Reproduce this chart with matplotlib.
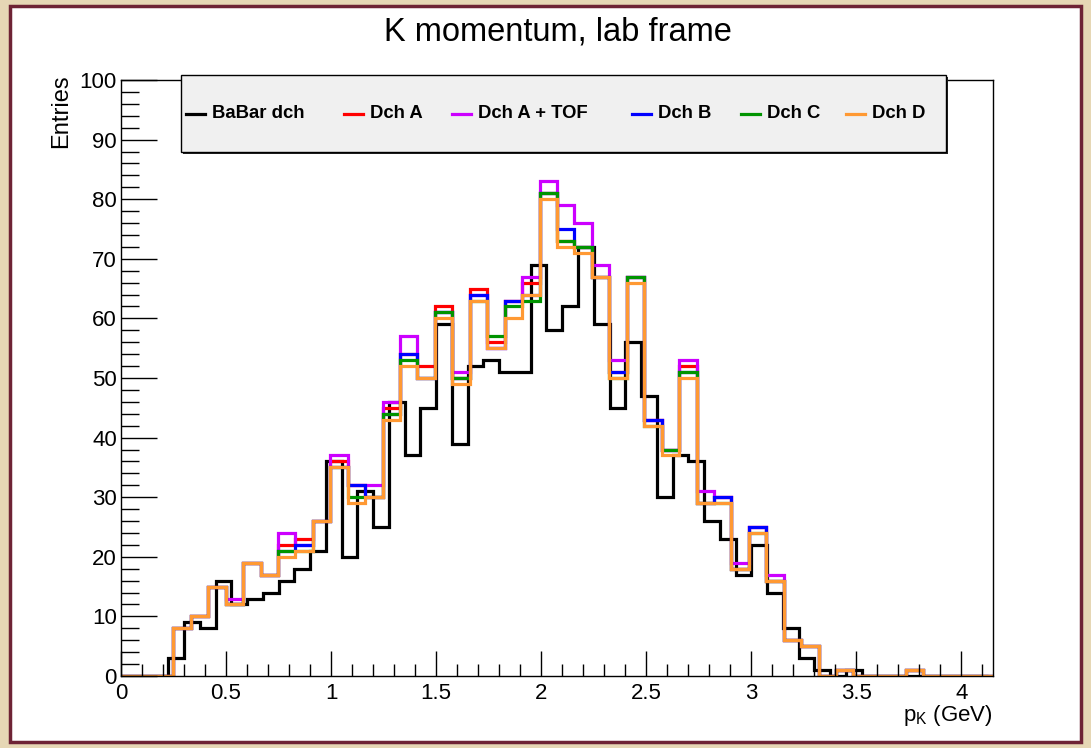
import matplotlib
matplotlib.use('Agg')
import matplotlib.pyplot as plt
from matplotlib.patches import Rectangle
from matplotlib.ticker import MultipleLocator
from matplotlib.lines import Line2D
import numpy as np

plt.rcParams['font.family'] = ['Liberation Sans', 'DejaVu Sans']

# binning: 50 bins for the new chambers, 55 for the BaBar reference
edges_dch = np.linspace(0.0, 4.15, 51)
edges_babar = np.linspace(0.0, 4.125, 56)

babar_dch = [0, 0, 0, 3, 9, 8, 16, 12, 13, 14, 16, 18, 21, 36, 20, 31, 25, 46, 37, 45,
             59, 39, 52, 53, 51, 51, 69, 58, 62, 72, 59, 45, 56, 47, 30, 37, 36, 26, 23, 17,
             22, 14, 8, 3, 1, 0, 1, 0, 0, 0, 0, 0, 0, 0, 0]

dch_a = [0, 0, 0, 8, 10, 15, 12, 19, 17, 22, 23, 26, 36, 32, 30, 45, 54, 52, 62, 50,
         65, 56, 63, 66, 81, 73, 72, 67, 51, 67, 43, 38, 52, 29, 30, 18, 25, 16, 6, 5,
         0, 1, 0, 0, 0, 1, 0, 0, 0, 0]

dch_a_tof = [0, 0, 0, 8, 10, 15, 13, 19, 17, 24, 22, 26, 37, 32, 32, 46, 57, 50, 61, 51,
             64, 55, 63, 67, 83, 79, 76, 69, 53, 67, 43, 38, 53, 31, 30, 19, 25, 17, 6, 5,
             0, 1, 0, 0, 0, 1, 0, 0, 0, 0]

dch_b = [0, 0, 0, 8, 10, 15, 12, 19, 17, 21, 22, 26, 35, 32, 30, 44, 54, 50, 61, 50,
         64, 55, 63, 64, 81, 75, 72, 67, 51, 67, 43, 38, 51, 29, 30, 18, 25, 16, 6, 5,
         0, 1, 0, 0, 0, 1, 0, 0, 0, 0]

dch_c = [0, 0, 0, 8, 10, 15, 12, 19, 17, 21, 21, 26, 35, 30, 30, 44, 53, 50, 61, 50,
         63, 57, 62, 63, 81, 73, 72, 67, 50, 67, 42, 38, 51, 29, 29, 18, 24, 16, 6, 5,
         0, 1, 0, 0, 0, 1, 0, 0, 0, 0]

dch_d = [0, 0, 0, 8, 10, 15, 12, 19, 17, 20, 21, 26, 35, 29, 30, 43, 52, 50, 60, 49,
         63, 55, 60, 64, 80, 72, 71, 67, 50, 66, 42, 37, 50, 29, 29, 18, 24, 16, 6, 5,
         0, 1, 0, 0, 0, 1, 0, 0, 0, 0]

labels = ['BaBar dch', 'Dch A', 'Dch A + TOF', 'Dch B', 'Dch C', 'Dch D']
colors = ['#000000', '#ff0000', '#cc00ff', '#0000ff', '#009400', '#ff9933']

fig = plt.figure(figsize=(10.91, 7.48), dpi=100)
fig.patch.set_facecolor('#e6d7b5')
# canvas
fig.patches.append(Rectangle((0.009, 0.008), 0.982, 0.984, transform=fig.transFigure,
                             facecolor='white', edgecolor='#6e2335', linewidth=2.5, zorder=-5))

ax = fig.add_axes([121/1091, 1 - 676/748, (993 - 121)/1091, (676 - 80)/748])
ax.set_zorder(1)
ax.patch.set_alpha(0)

series = [(babar_dch, edges_babar), (dch_a, edges_dch), (dch_a_tof, edges_dch),
          (dch_b, edges_dch), (dch_c, edges_dch), (dch_d, edges_dch)]
for (vals, ed), col, lab in zip(series, colors, labels):
    ax.stairs(vals, ed, color=col, linewidth=2.3, baseline=None, label=lab)

ax.set_xlim(0, 4.15)
ax.set_ylim(0, 100)
for s in ax.spines.values():
    s.set_linewidth(1.0)

ax.xaxis.set_major_locator(MultipleLocator(0.5))
ax.xaxis.set_minor_locator(MultipleLocator(0.1))
ax.yaxis.set_major_locator(MultipleLocator(10))
ax.yaxis.set_minor_locator(MultipleLocator(2))
ax.xaxis.set_major_formatter(plt.FuncFormatter(lambda v, p: '%g' % v))
ax.tick_params(axis='x', which='major', direction='in', length=18, width=1, labelsize=16, pad=5)
ax.tick_params(axis='x', which='minor', direction='in', length=9, width=1)
ax.tick_params(axis='y', which='major', direction='in', length=26, width=1, labelsize=16, pad=3)
ax.tick_params(axis='y', which='minor', direction='in', length=13, width=1)

fig.text(558/1091, 1 - 32/748, 'K momentum, lab frame', ha='center', va='center', fontsize=23.5)
fig.text(61/1091, 1 - 74/748, 'Entries', rotation=90, ha='center', va='top', fontsize=17)
fig.text(993/1091, 1 - 716/748, r'p$_{\mathregular{K}}$ (GeV)', ha='right', va='center', fontsize=16)

# legend box with shadow, single row
shadow = Rectangle((183/1091, 1 - 154/748), (946 - 181)/1091, (152 - 75)/748,
                   transform=fig.transFigure, facecolor='#222222', edgecolor='none', zorder=5)
box = Rectangle((181/1091, 1 - 152/748), (946 - 181)/1091, (152 - 75)/748,
                transform=fig.transFigure, facecolor='#f0f0f0', edgecolor='black',
                linewidth=1, zorder=6)
fig.patches.extend([shadow, box])

line_x = [186, 344, 452, 632, 741, 846]
for lx, col, lab in zip(line_x, colors, labels):
    fig.lines.append(Line2D([lx/1091, (lx + 19)/1091], [1 - 114/748, 1 - 114/748],
                            transform=fig.transFigure, color=col, linewidth=2.3, zorder=7))
    fig.text((lx + 26)/1091, 1 - 114/748, lab, ha='left', va='center', fontsize=13.3,
             fontweight='bold', zorder=8)

fig.savefig('out.png', dpi=100, facecolor=fig.get_facecolor())
